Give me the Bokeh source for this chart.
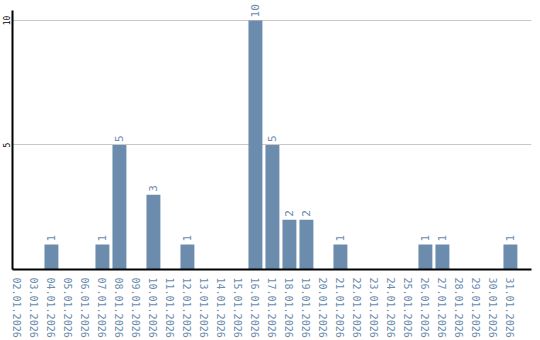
import math
from bokeh.plotting import figure
from bokeh.models import ColumnDataSource, Range1d, FixedTicker
from bokeh.core.properties import value
from bokeh.embed import file_html
from bokeh.resources import INLINE

dates = ["%02d.01.2026" % d for d in range(2, 32)]
counts = [0, 0, 1, 0, 0, 1, 5, 0, 3, 0, 1, 0, 0, 0, 10, 5, 2, 2, 0, 1, 0, 0, 0, 0, 1, 1, 0, 0, 0, 1]
y_ticks = [5, 10]

xs = list(range(len(dates)))
bar_x = [x for x, c in zip(xs, counts) if c > 0]
bar_y = [c for c in counts if c > 0]
src = ColumnDataSource(dict(x=bar_x, top=bar_y, label=[str(c) for c in bar_y]))

p = figure(width=540, height=340, output_backend="svg", toolbar_location=None,
           x_range=Range1d(-0.29, 30.24), y_range=Range1d(0, 10.8),
           min_border_left=0, min_border_top=0, min_border_right=9, min_border_bottom=70)
p.outline_line_color = None
p.background_fill_color = "white"

p.vbar(x="x", top="top", width=0.82, bottom=0, source=src, color="#6b8cad", line_color=None)
p.text(x="x", y="top", text="label", source=src, angle=math.pi / 2, text_align="left",
       text_baseline="middle", y_offset=-3, text_color="#6b8cad", text_font_size="11px",
       text_font=value("DejaVu Sans Mono"))

p.xgrid.grid_line_color = None
p.ygrid.grid_line_color = "#c8c8c8"
p.ygrid.ticker = FixedTicker(ticks=y_ticks)

p.yaxis.ticker = FixedTicker(ticks=y_ticks)
p.yaxis.bounds = (0, 10.4)
p.yaxis.major_label_orientation = "vertical"
p.yaxis.major_label_text_font_size = "8px"
p.yaxis.major_label_text_font = "DejaVu Sans Mono"
p.yaxis.major_label_text_color = "black"
p.yaxis.major_tick_line_color = None
p.yaxis.minor_tick_line_color = None
p.yaxis.major_tick_out = 0
p.yaxis.major_tick_in = 0
p.yaxis.axis_line_color = "black"
p.yaxis.axis_line_width = 2
p.yaxis.major_label_standoff = 2

p.xaxis.ticker = FixedTicker(ticks=xs)
p.xaxis.major_label_overrides = {i: d for i, d in enumerate(dates)}
p.xaxis.major_label_orientation = "vertical"
p.xaxis.major_label_text_font_size = "10px"
p.xaxis.major_label_text_font = "DejaVu Sans Mono"
p.xaxis.major_label_text_color = "#6b8cad"
p.xaxis.major_tick_line_color = None
p.xaxis.minor_tick_line_color = None
p.xaxis.major_tick_out = 0
p.xaxis.major_tick_in = 0
p.xaxis.axis_line_color = "black"
p.xaxis.axis_line_width = 2
p.xaxis.major_label_standoff = 8

open("out.html", "w").write(file_html(p, INLINE))
